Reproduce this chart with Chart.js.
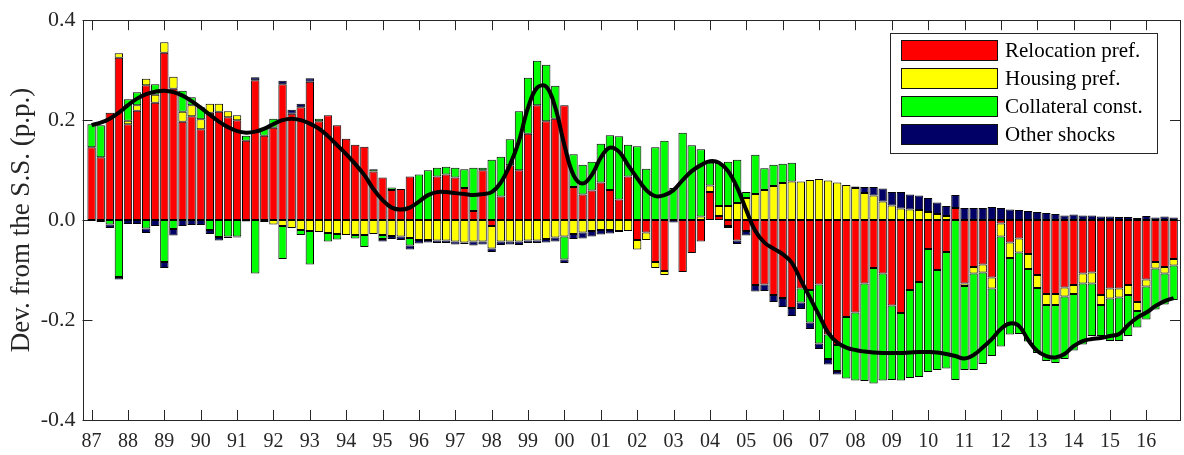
<!DOCTYPE html>
<html><head><meta charset="utf-8">
<script src="https://cdn.jsdelivr.net/npm/chart.js@4.4.1/dist/chart.umd.min.js"></script>
<style>html,body{margin:0;padding:0;background:#fff}canvas{display:block}</style>
</head><body><canvas id="c" width="1184" height="455"></canvas>
<script>
// Year tick labels (one tick every 4 quarters, starting 1987Q1)
const tickLabels = ['87','88','89','90','91','92','93','94','95','96','97','98','99','00','01','02','03','04','05','06','07','08','09','10','11','12','13','14','15','16'];
const yTickValues = [-0.4,-0.2,0,0.2,0.4];
const seriesNames = ['Relocation pref.','Housing pref.','Collateral const.','Other shocks'];
const seriesColors = ['#ff0000','#ffff00','#00ff00','#000066'];

const relocation = [
 0.146,0.126,0.215,0.325,0.192,0.219,0.270,0.235,0.335,0.263,
 0.197,0.208,0.182,0.215,0.217,0.206,0.200,0.159,0.280,0.169,
 0.185,0.272,0.213,0.226,0.277,0.198,0.210,0.190,0.163,0.151,
 0.147,0.097,0.085,0.060,0.062,0.087,0,0,0.087,0.091,
 0.085,0.064,0.018,0.100,-0.012,0.047,0.110,0.100,0.173,0.230,
 0.198,0.203,0.230,0.066,0.051,0.059,0.075,0.060,0.041,0.087,
 -0.040,-0.025,-0.084,-0.102,0,-0.104,-0.066,-0.043,0.056,0.008,
 -0.012,-0.041,-0.022,-0.130,-0.129,-0.150,-0.156,-0.176,-0.137,-0.140,
 -0.129,-0.229,-0.250,-0.194,-0.185,-0.127,-0.096,-0.107,-0.171,-0.186,
 -0.140,-0.124,-0.058,-0.100,-0.064,0.024,-0.127,-0.094,-0.089,-0.115,
 -0.007,-0.045,-0.037,-0.068,-0.110,-0.148,-0.148,-0.135,-0.130,-0.107,
 -0.105,-0.150,-0.137,-0.137,-0.130,-0.164,-0.119,-0.084,-0.094,-0.078];
const housing = [
 0,0,0,0.009,0.007,0.011,0.013,0.016,0.021,0.024,
 0.020,0.022,0.020,0.018,0.016,0.012,0.010,0,0,0,
 -0.009,-0.012,-0.016,-0.020,-0.022,-0.024,-0.026,-0.028,-0.030,-0.030,
 -0.030,-0.028,-0.030,-0.032,-0.033,-0.036,-0.040,-0.040,-0.041,-0.041,
 -0.043,-0.045,-0.043,-0.043,-0.045,-0.043,-0.043,-0.043,-0.041,-0.041,
 -0.038,-0.035,-0.033,-0.028,-0.025,-0.022,-0.020,-0.020,-0.022,-0.022,
 -0.019,-0.015,-0.012,-0.008,0,0,0,0.007,0.013,0.020,
 0.028,0.034,0.044,0.052,0.060,0.068,0.074,0.077,0.077,0.080,
 0.082,0.079,0.075,0.070,0.064,0.054,0.049,0.037,0.029,0.023,
 0.021,0.020,0.016,0.012,0.008,0,-0.005,-0.013,-0.016,-0.022,
 -0.026,-0.031,-0.028,-0.030,-0.026,-0.022,-0.022,-0.018,-0.018,-0.020,
 -0.022,-0.020,-0.020,-0.018,-0.020,-0.018,-0.014,-0.013,-0.013,-0.013];
const collateral = [
 0.046,0.064,-0.009,-0.114,0.043,0.026,-0.017,0.021,-0.084,-0.018,
 0.042,0.016,0.024,-0.020,-0.034,-0.033,-0.033,0.010,-0.107,0.016,
 0.018,-0.066,0,-0.010,-0.067,0.005,-0.017,-0.011,0,-0.007,
 -0.024,0.005,-0.008,0.005,0,-0.015,0.091,0.100,0.018,0.016,
 0.020,0.038,0.087,0.005,0.121,0.080,0.052,0.118,0.112,0.089,
 0.113,0.066,-0.046,0.066,0.060,0.058,0.078,0.110,0.127,0.064,
 0.148,0.103,0.146,0.159,0.064,0.175,0.150,0.135,0.046,0.087,
 0.089,0.087,0.012,0.079,0.044,0.043,0.039,0.038,-0.028,-0.065,
 -0.118,-0.049,-0.052,-0.123,-0.136,-0.195,-0.231,-0.214,-0.149,-0.135,
 -0.176,-0.190,-0.246,-0.200,-0.233,-0.320,-0.168,-0.193,-0.183,-0.135,
 -0.220,-0.153,-0.163,-0.145,-0.130,-0.112,-0.116,-0.125,-0.113,-0.122,
 -0.105,-0.062,-0.085,-0.087,-0.082,-0.033,-0.066,-0.082,-0.062,-0.069];
const otherShocks = [
 -0.002,-0.004,-0.007,-0.005,-0.008,-0.008,-0.009,-0.012,-0.012,-0.013,
 -0.012,-0.010,-0.010,-0.008,-0.007,-0.003,-0.002,-0.003,0.006,-0.004,
 0,0.007,0.008,0.007,0.007,0,0,0,0,0,
 0,0,-0.005,-0.006,-0.007,-0.008,-0.007,-0.005,-0.005,-0.005,
 -0.006,-0.003,-0.008,-0.006,-0.007,-0.007,-0.006,-0.007,-0.005,-0.005,
 -0.007,-0.008,-0.007,-0.010,-0.012,-0.011,-0.009,-0.007,-0.002,0,
 0,0,0,0,-0.005,0,0,0,0,0,
 -0.004,-0.007,-0.009,-0.013,-0.013,-0.014,-0.018,-0.016,-0.013,-0.013,
 -0.011,-0.011,-0.007,0,0.003,0.012,0.017,0.026,0.027,0.033,
 0.030,0.029,0.028,0.023,0.020,0.026,0.024,0.024,0.024,0.026,
 0.024,0.021,0.020,0.018,0.016,0.014,0.012,0.009,0.011,0.009,
 0.009,0.007,0.007,0.006,0.006,0.004,0.008,0.005,0.007,0.005];
const total = [
 0.190,0.195,0.203,0.215,0.230,0.243,0.252,0.257,0.259,0.256,
 0.249,0.238,0.225,0.211,0.197,0.186,0.178,0.175,0.177,0.183,
 0.192,0.200,0.203,0.200,0.193,0.183,0.168,0.150,0.132,0.112,
 0.090,0.062,0.040,0.025,0.021,0.025,0.037,0.050,0.056,0.056,
 0.054,0.052,0.050,0.052,0.056,0.075,0.110,0.158,0.225,0.265,
 0.267,0.225,0.150,0.090,0.073,0.090,0.125,0.145,0.137,0.110,
 0.084,0.060,0.048,0.050,0.060,0.080,0.098,0.110,0.118,0.115,
 0.098,0.065,0.020,-0.022,-0.045,-0.057,-0.068,-0.085,-0.120,-0.155,
 -0.190,-0.225,-0.245,-0.255,-0.260,-0.263,-0.265,-0.266,-0.266,-0.266,
 -0.265,-0.264,-0.264,-0.265,-0.268,-0.272,-0.277,-0.270,-0.255,-0.238,
 -0.218,-0.207,-0.212,-0.240,-0.262,-0.272,-0.275,-0.268,-0.252,-0.242,
 -0.238,-0.236,-0.232,-0.228,-0.210,-0.195,-0.185,-0.172,-0.162,-0.156];

const toPts = arr => arr.map((v,i)=>({x:i, y: v===0 ? null : v}));
const barSets = [relocation, housing, collateral, otherShocks].map((arr,k)=>({
  type:'bar', label: seriesNames[k], data: toPts(arr), stack:'shocks',
  backgroundColor: seriesColors[k], borderColor:'#000', borderWidth:1, borderSkipped:false,
  barPercentage:0.92, categoryPercentage:1
}));
const lineSet = {type:'line', label:'total', data: total.map((v,i)=>({x:i,y:v})), stack:'line',
  borderColor:'#000', borderWidth:4, pointRadius:0, tension:0.4, fill:false};

const serif = 'Liberation Serif, Times New Roman, serif';
const frame = {
  id:'frame',
  beforeDatasetsDraw(chart){
    const {ctx, chartArea:a, scales:{x,y}} = chart;
    ctx.save(); ctx.strokeStyle='#262626'; ctx.lineWidth=1; ctx.beginPath();
    x.ticks.forEach(t=>{const p=Math.round(x.getPixelForValue(t.value))+0.5;
      ctx.moveTo(p,a.bottom); ctx.lineTo(p,a.bottom-10); ctx.moveTo(p,a.top); ctx.lineTo(p,a.top+10);});
    y.ticks.forEach(t=>{const p=Math.round(y.getPixelForValue(t.value))+0.5;
      ctx.moveTo(a.left,p); ctx.lineTo(a.left+10,p); ctx.moveTo(a.right,p); ctx.lineTo(a.right-10,p);});
    ctx.stroke();
    ctx.strokeRect(Math.round(a.left)+0.5, Math.round(a.top)+0.5, Math.round(a.right-a.left)-1, Math.round(a.bottom-a.top));
    ctx.restore();
  },
  afterDraw(chart){
    const ctx = chart.ctx; ctx.save();
    const bx=890.5, by=33.5, bw=267, bh=120;
    ctx.fillStyle='#fff'; ctx.fillRect(bx,by,bw,bh);
    ctx.strokeStyle='#262626'; ctx.lineWidth=1; ctx.strokeRect(bx,by,bw,bh);
    ctx.font = '21px ' + serif; ctx.textBaseline='middle'; ctx.textAlign='left';
    chart.data.datasets.filter(d=>d.type==='bar').forEach((d,k)=>{
      const sy = 40 + 28*k;
      ctx.fillStyle = d.backgroundColor; ctx.fillRect(901, sy, 97, 21);
      ctx.strokeStyle='#111'; ctx.strokeRect(901.5, sy+0.5, 96, 20);
      ctx.fillStyle='#000'; ctx.fillText(d.label, 1005, sy+11);
    });
    ctx.restore();
  }
};

new Chart(document.getElementById('c'), {
  data:{datasets:[lineSet, ...barSets]},
  plugins:[frame],
  options:{
    responsive:false, animation:false, devicePixelRatio:1,
    layout:{padding:{left:0,right:4,top:14.7,bottom:0}},
    plugins:{legend:{display:false}, tooltip:{enabled:false}},
    scales:{
      x:{type:'linear', stacked:true, min:-1, max:119.7, offset:false,
        afterBuildTicks: s => { s.ticks = tickLabels.map((_,k)=>({value:4*k})); },
        afterFit: s => { s.height = 35; },
        grid:{display:false, drawTicks:false}, border:{display:false},
        ticks:{autoSkip:false, maxRotation:0, padding:10, color:'#262626',
          font:{family:serif, size:20}, callback:(v)=> tickLabels[Math.round(v/4)]}},
      y:{type:'linear', stacked:true, min:-0.4, max:0.4,
        afterBuildTicks: s => { s.ticks = yTickValues.map(v=>({value:v})); },
        afterFit: s => { s.width = 82.5; },
        grid:{display:false, drawTicks:false}, border:{display:false},
        ticks:{padding:7, color:'#262626', font:{family:serif, size:22}, callback:v=>v.toFixed(1)},
        title:{display:true, text:'Dev. from the S.S. (p.p.)', color:'#262626',
          font:{family:serif, size:27}, padding:{top:6,bottom:0}}}
    }
  }
});
</script></body></html>
